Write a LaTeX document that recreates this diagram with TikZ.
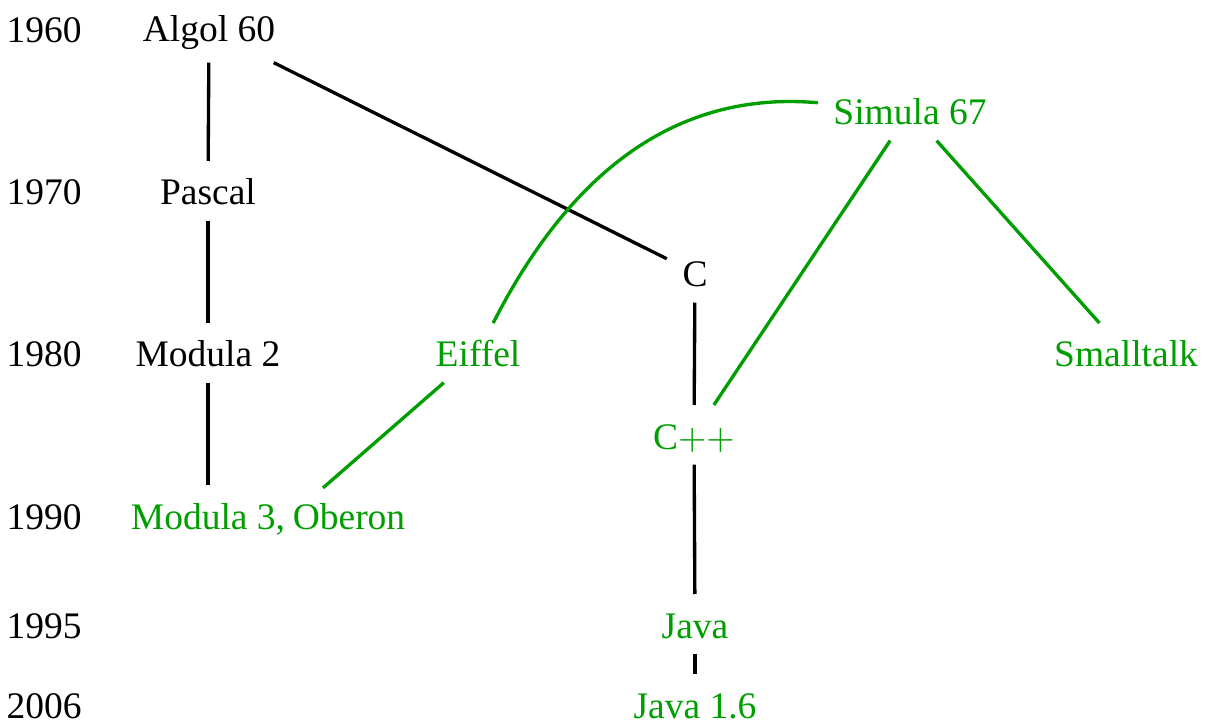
\documentclass[tikz,border=0pt]{standalone}
\usepackage[no-math]{fontspec}
\setmainfont{Liberation Serif}
\definecolor{langgreen}{RGB}{0,158,0}
\begin{document}
\begin{tikzpicture}[x=0.3pt,y=-0.3pt,
  every node/.style={font=\fontsize{11.25}{13.5}\selectfont},
  lang/.style={anchor=base, text height=8.5pt, text depth=0pt,
               inner xsep=4.5pt, inner ysep=4.5pt},
  newlang/.style={lang, text=langgreen},
  year/.style={anchor=base west, inner sep=0pt},
  link/.style={line width=1pt},
  newlink/.style={link, draw=langgreen}]
\useasboundingbox (0,0) rectangle (1205,722);

% time axis
\node[year] (y1960) at (6,43)  {1960};
\node[year] (y1970) at (6,205) {1970};
\node[year] (y1980) at (6,367) {1980};
\node[year] (y1990) at (6,529) {1990};
\node[year] (y1995) at (6,638) {1995};
\node[year] (y2006) at (6,718) {2006};

% languages
\node[lang, text depth=1.5pt] (algol) at (209,42) {Algol 60};
\node[lang]    (pascal)    at (208,205) {Pascal};
\node[lang]    (modula2)   at (208,367) {Modula 2};
\node[newlang, inner xsep=1pt] (modula3) at (208,529) {Modula 3,};
\node[newlang, inner xsep=1pt] (oberon)  at (349,529) {Oberon};
\node[newlang] (eiffel)    at (478,367) {Eiffel};
\node[lang]    (c)         at (695,287) {C};
\node[newlang] (cpp)       at (694,449) {C$++$};
\node[newlang] (java)      at (695,638) {Java};
\node[newlang] (java16)    at (695,718) {Java 1.6};
\node[newlang] (simula)    at (910,125) {Simula 67};
\node[newlang] (smalltalk) at (1126,367) {Smalltalk};

% lineage
\draw[link] (algol) -- (pascal);
\draw[link] (pascal) -- (modula2);
\draw[link] (modula2) -- (modula3);
\draw[link] (algol) -- (c);
\draw[link] (c) -- (cpp);
\draw[link] (cpp) -- (java);
\draw[link] (java) -- (java16);

\draw[newlink] (simula) -- (cpp);
\draw[newlink] (simula) -- (smalltalk);
\draw[newlink] (eiffel) to[out=63,in=175] (simula);
\draw[newlink, shorten >=12.3pt] (eiffel) -- ([xshift=1pt]oberon.west);
\end{tikzpicture}
\end{document}
